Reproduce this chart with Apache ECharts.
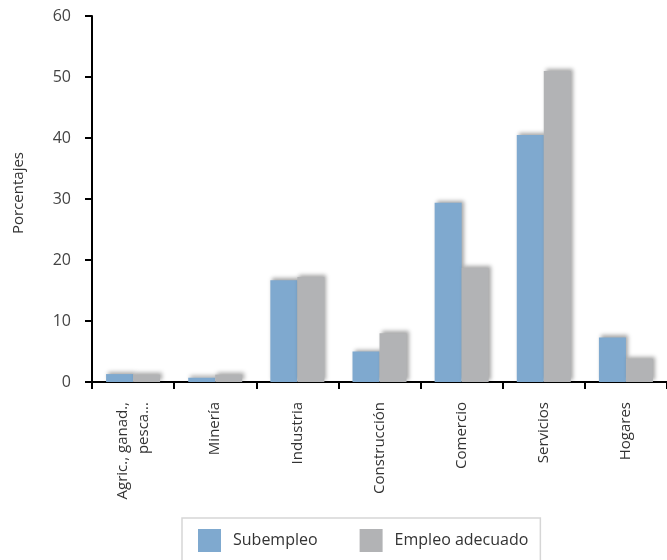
<!DOCTYPE html>
<html>
<head>
<meta charset="utf-8">
<script src="https://cdn.jsdelivr.net/npm/echarts@6/dist/echarts.min.js"></script>
<style>
  html, body { margin: 0; padding: 0; background: #fff; }
  #chart { width: 667px; height: 560px; }
</style>
</head>
<body>
<div id="chart"></div>
<script>
// Sectors of economic activity
const categories = ['Agric., ganad.,\npesca...', 'Minería', 'Industria', 'Construcción', 'Comercio', 'Servicios', 'Hogares'];
// Share of employed people per sector (%)
const subempleo = [1.3, 0.7, 16.7, 5.0, 29.4, 40.5, 7.3];
const empleoAdecuado = [1.2, 1.2, 17.2, 8.0, 18.7, 51.0, 3.8];
const seriesNames = ['Subempleo', 'Empleo adecuado'];

const FONT = '"Open Sans", "Noto Sans", sans-serif';
const barShadow = {
  shadowColor: 'rgba(0,0,0,0.35)',
  shadowBlur: 4,
  shadowOffsetX: 2,
  shadowOffsetY: -2
};

const chart = echarts.init(document.getElementById('chart'), null, { renderer: 'canvas' });
chart.setOption({
  animation: false,
  backgroundColor: '#ffffff',
  textStyle: { fontFamily: FONT },
  grid: { left: 92, right: 0, top: 16, bottom: 178, containLabel: false, outerBoundsMode: 'none' },
  legend: {
    left: 182,
    top: 518,
    padding: [11, 12, 11, 16],
    borderColor: '#d6d6d6',
    borderWidth: 1.5,
    itemWidth: 23,
    itemHeight: 23,
    itemGap: 42,
    icon: 'rect',
    itemStyle: { shadowBlur: 0, shadowColor: 'transparent', shadowOffsetX: 0, shadowOffsetY: 0 },
    textStyle: { fontFamily: FONT, fontSize: 16, color: '#333', padding: [0, 0, 0, 7] },
    data: seriesNames
  },
  xAxis: {
    type: 'category',
    data: categories,
    axisLine: { show: true, lineStyle: { color: '#000', width: 2 } },
    axisTick: { show: true, length: 7, lineStyle: { color: '#000', width: 2 } },
    axisLabel: {
      interval: 0,
      rotate: 90,
      margin: 20,
      fontFamily: FONT,
      fontSize: 15,
      lineHeight: 21,
      color: '#333'
    },
    splitLine: { show: false }
  },
  yAxis: {
    type: 'value',
    min: 0,
    max: 60,
    interval: 10,
    name: 'Porcentajes',
    nameLocation: 'middle',
    nameRotate: 90,
    nameGap: 66,
    nameTextStyle: { fontFamily: FONT, fontSize: 15, color: '#333', padding: [0, 0, 0, 12] },
    axisLine: { show: true, lineStyle: { color: '#000', width: 2 } },
    axisTick: { show: true, length: 7, lineStyle: { color: '#000', width: 2 } },
    axisLabel: { margin: 21, fontFamily: FONT, fontSize: 16, color: '#444' },
    splitLine: { show: false }
  },
  series: [
    {
      name: seriesNames[0],
      type: 'bar',
      data: subempleo,
      barWidth: 27,
      barGap: '0%',
      itemStyle: Object.assign({ color: '#7fa9cf' }, barShadow)
    },
    {
      name: seriesNames[1],
      type: 'bar',
      data: empleoAdecuado,
      barWidth: 27,
      barGap: '0%',
      itemStyle: Object.assign({ color: '#b2b3b5' }, barShadow)
    }
  ]
});
</script>
</body>
</html>
